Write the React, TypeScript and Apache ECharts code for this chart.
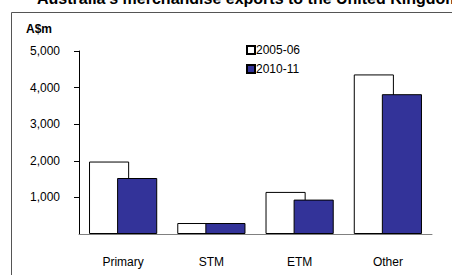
import React, { useEffect, useRef } from "react";
import * as echarts from "echarts";

const categories = ["Primary", "STM", "ETM", "Other"];
const series2005 = [1980, 300, 1150, 4360];
const series2010 = [1530, 300, 940, 3820];
const seriesNames = ["2005-06", "2010-11"];
const yTicks = { min: 0, max: 5000, interval: 1000 };
const titleText = "Australia's merchandise exports to the United Kingdom";
const unitLabel = "A$m";

const FONT = "'Liberation Sans', Arial, sans-serif";

export default function App() {
  const ref = useRef<HTMLDivElement>(null);
  useEffect(() => {
    if (!ref.current) return;
    const chart = echarts.init(ref.current, null, { renderer: "svg" });
    chart.setOption({
      animation: false,
      backgroundColor: "#ffffff",
      textStyle: { fontFamily: FONT },
      grid: { left: 79, right: 20, top: 51, bottom: 41, containLabel: false },
      legend: {
        orient: "vertical",
        left: 241,
        top: 39,
        itemWidth: 8,
        itemHeight: 8,
        itemGap: 7,
        icon: "rect",
        data: seriesNames,
        textStyle: { fontFamily: FONT, fontSize: 12, color: "#000", padding: [0, 0, 0, -4] },
      },
      xAxis: {
        type: "category",
        data: categories,
        axisLine: { lineStyle: { color: "#808080", width: 1 } },
        axisTick: { show: false },
        axisLabel: { fontFamily: FONT, fontSize: 12, color: "#000", margin: 22 },
      },
      yAxis: {
        type: "value",
        min: yTicks.min,
        max: yTicks.max,
        interval: yTicks.interval,
        splitLine: { show: false },
        axisLine: { show: true, lineStyle: { color: "#000", width: 1 } },
        axisTick: { show: true, length: 5, lineStyle: { color: "#000" } },
        axisLabel: {
          fontFamily: FONT,
          fontSize: 12,
          color: "#000",
          margin: 19,
          showMinLabel: false,
          formatter: (v: number) => (v === 0 ? "" : v.toLocaleString("en-US")),
        },
      },
      series: [
        {
          name: seriesNames[0],
          type: "bar",
          data: series2005,
          barGap: "-30%",
          barCategoryGap: "22.7%",
          itemStyle: { color: "#ffffff", borderColor: "#000", borderWidth: 1 },
        },
        {
          name: seriesNames[1],
          type: "bar",
          data: series2010,
          barGap: "-30%",
          barCategoryGap: "22.7%",
          itemStyle: { color: "#333399", borderColor: "#000", borderWidth: 1 },
        },
      ],
      graphic: [
        {
          type: "rect",
          shape: { x: 11.5, y: 12.5, width: 600, height: 400 },
          style: { fill: "none", stroke: "#555", lineWidth: 1 },
          silent: true,
        },
        {
          type: "text",
          left: 37,
          top: -10,
          style: { text: titleText, font: `bold 16px ${FONT}`, fill: "#000" },
        },
        {
          type: "text",
          left: 26,
          top: 23,
          style: { text: unitLabel, font: `bold 12px ${FONT}`, fill: "#000" },
        },
      ],
    });
    return () => chart.dispose();
  }, []);
  return (
    <div
      ref={ref}
      style={{ position: "fixed", left: 0, top: 0, width: 452, height: 275 }}
    />
  );
}
